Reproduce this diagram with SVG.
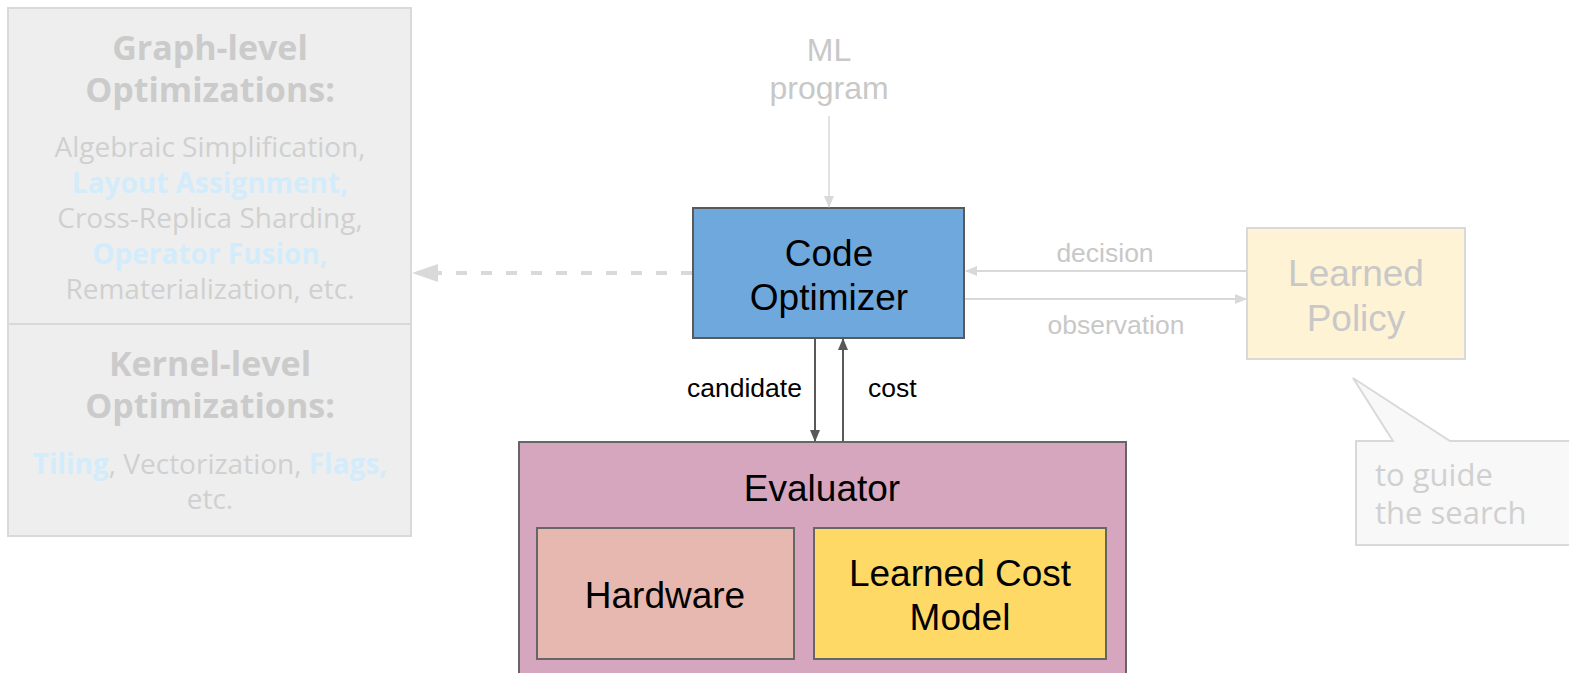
<svg xmlns="http://www.w3.org/2000/svg" width="1569" height="673" viewBox="0 0 1569 673">
<defs>
<style>
.arial{font-family:"Liberation Sans",Arial,sans-serif}
.gs{font-family:"Open Sans","Noto Sans",sans-serif}
.big{font-size:37px;fill:#000}
.faint{fill:#c8c8c8}
.title{font-size:34px;font-weight:bold;fill:#cbcbcb}
.body{font-size:28px;fill:#d0d0d0}
.blue{fill:#d3ecfb;font-weight:bold}
.lbl{font-size:26.5px}
</style>
<marker id="aGray" markerWidth="12" markerHeight="10" refX="11" refY="5" orient="auto" markerUnits="userSpaceOnUse">
<path d="M0,0 L12,5 L0,10 z" fill="#d9d9d9"/>
</marker>
<marker id="aDark" markerWidth="10" markerHeight="12" refX="11" refY="6" orient="auto" markerUnits="userSpaceOnUse">
<path d="M0,1 L12,6 L0,11 z" fill="#595959"/>
</marker>
</defs>
<rect width="1569" height="673" fill="#ffffff"/>

<g id="opt-panel">
<rect x="8" y="8" width="403" height="528" fill="#eeeeee" stroke="#d9d9d9" stroke-width="2"/>
<line x1="8" y1="324" x2="411" y2="324" stroke="#d9d9d9" stroke-width="2"/>
<g class="gs" text-anchor="middle">
<text x="210" y="60" class="title">Graph-level</text>
<text x="210" y="102" class="title">Optimizations:</text>
<text x="210" y="157" class="body">Algebraic Simplification,</text>
<text x="210" y="193" class="body blue">Layout Assignment,</text>
<text x="210" y="228" class="body">Cross-Replica Sharding,</text>
<text x="210" y="264" class="body blue">Operator Fusion,</text>
<text x="210" y="299" class="body">Rematerialization, etc.</text>
<text x="210" y="376" class="title">Kernel-level</text>
<text x="210" y="418" class="title">Optimizations:</text>
<text x="210" y="474" class="body"><tspan class="blue">Tiling</tspan>, Vectorization, <tspan class="blue">Flags,</tspan></text>
<text x="210" y="509" class="body">etc.</text>
</g>
</g>

<g id="ml-program">
<text x="829" y="61" class="arial faint" font-size="32" text-anchor="middle">ML</text>
<text x="829" y="99" class="arial faint" font-size="32" text-anchor="middle">program</text>
</g>

<g id="code-optimizer">
<rect x="693" y="208" width="271" height="130" fill="#6fa8dc" stroke="#595959" stroke-width="2"/>
<text x="829" y="266" class="arial big" text-anchor="middle">Code</text>
<text x="829" y="310" class="arial big" text-anchor="middle">Optimizer</text>
</g>

<g id="learned-policy">
<rect x="1247" y="228" width="218" height="131" fill="#fff3d6" stroke="#d9d9d9" stroke-width="2"/>
<text x="1356" y="286" class="arial faint" font-size="37" text-anchor="middle">Learned</text>
<text x="1356" y="331" class="arial faint" font-size="37" text-anchor="middle">Policy</text>
</g>

<g id="callout">
<path d="M1353,378 L1450,441 L1575,441 L1575,545 L1356,545 L1356,441 L1393,441 Z" fill="#f8f8f8" stroke="#d9d9d9" stroke-width="2"/>
<text x="1375" y="486" class="gs" font-size="31" fill="#d0d0d0">to guide</text>
<text x="1375" y="524" class="gs" font-size="31" fill="#d0d0d0">the search</text>
</g>

<g id="evaluator">
<rect x="519" y="442" width="607" height="240" fill="#d5a6bd" stroke="#666666" stroke-width="2"/>
<text x="822" y="501" class="arial big" text-anchor="middle">Evaluator</text>
</g>

<g id="hardware">
<rect x="537" y="528" width="257" height="131" fill="#e6b8af" stroke="#666666" stroke-width="2"/>
<text x="665" y="608" class="arial big" text-anchor="middle">Hardware</text>
</g>

<g id="cost-model">
<rect x="814" y="528" width="292" height="131" fill="#ffd966" stroke="#666666" stroke-width="2"/>
<text x="960" y="586" class="arial big" text-anchor="middle">Learned Cost</text>
<text x="960" y="630" class="arial big" text-anchor="middle">Model</text>
</g>

<g id="connectors">
<line x1="829" y1="116" x2="829" y2="207" stroke="#d9d9d9" stroke-width="1.5" marker-end="url(#aGray)"/>
<line x1="1247" y1="271" x2="966" y2="271" stroke="#d9d9d9" stroke-width="2" marker-end="url(#aGray)"/>
<line x1="965" y1="299" x2="1246" y2="299" stroke="#d9d9d9" stroke-width="2" marker-end="url(#aGray)"/>
<line x1="692" y1="273" x2="436" y2="273" stroke="#d9d9d9" stroke-width="4" stroke-dasharray="11,14"/>
<path d="M412,273 L438,264 L438,282 Z" fill="#d9d9d9"/>
<line x1="815" y1="339" x2="815" y2="441" stroke="#595959" stroke-width="2" marker-end="url(#aDark)"/>
<line x1="843" y1="441" x2="843" y2="339" stroke="#595959" stroke-width="2" marker-end="url(#aDark)"/>
<text x="687" y="397" class="arial lbl" fill="#000">candidate</text>
<text x="868" y="397" class="arial lbl" fill="#000">cost</text>
<text x="1105" y="262" class="arial lbl faint" text-anchor="middle">decision</text>
<text x="1116" y="334" class="arial lbl faint" text-anchor="middle">observation</text>
</g>
</svg>
